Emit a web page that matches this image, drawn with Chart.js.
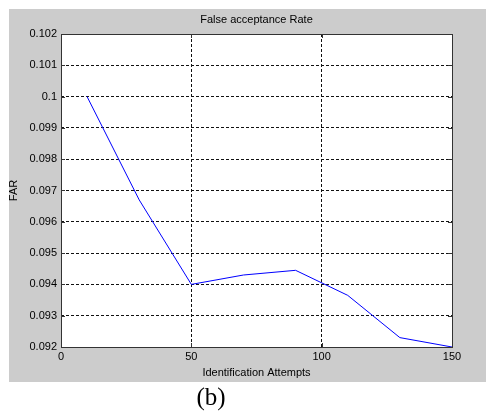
<!DOCTYPE html>
<html>
<head>
<meta charset="utf-8">
<script src="https://cdn.jsdelivr.net/npm/chart.js@4"></script>
<style>
  html, body { margin: 0; padding: 0; background: #fff; }
  canvas { display: block; }
</style>
</head>
<body>
<canvas id="farChart" width="486" height="412"></canvas>
<script>
// ── Data ───────────────────────────────────────
const attempts = [10, 30, 50, 70, 90, 110, 130, 150];
const farValues = [0.1, 0.0967, 0.094, 0.0943, 0.09445, 0.09365, 0.0923, 0.092];

const xTickValues = [0, 50, 100, 150];
const xTickLabels = ['0', '50', '100', '150'];
const yTickValues = [0.092, 0.093, 0.094, 0.095, 0.096, 0.097, 0.098, 0.099, 0.1, 0.101, 0.102];
const yTickLabels = ['0.092', '0.093', '0.094', '0.095', '0.096', '0.097', '0.098', '0.099', '0.1', '0.101', '0.102'];

const FONT = '"Liberation Sans", Arial, sans-serif';

// ── MATLAB-style figure: gray panel, white axes, box, inner ticks, title, caption
const figureDecor = {
  id: 'figureDecor',
  beforeDraw(chart) {
    const { ctx, chartArea: a } = chart;
    ctx.save();
    ctx.fillStyle = '#fff';
    ctx.fillRect(0, 0, chart.width, chart.height);
    ctx.fillStyle = '#cccccc';
    ctx.fillRect(9, 9, chart.width - 9, 373);
    ctx.fillStyle = '#fff';
    ctx.fillRect(a.left, a.top, a.right - a.left, a.bottom - a.top);
    ctx.restore();
  },
  afterDraw(chart) {
    const { ctx, chartArea: a, scales } = chart;
    ctx.save();
    // inner tick marks
    ctx.strokeStyle = '#333';
    ctx.lineWidth = 1;
    ctx.beginPath();
    yTickValues.forEach(v => {
      const y = Math.round(scales.y.getPixelForValue(v)) + 0.5;
      ctx.moveTo(a.left, y); ctx.lineTo(a.left + 4, y);
      ctx.moveTo(a.right, y); ctx.lineTo(a.right - 4, y);
    });
    xTickValues.forEach(v => {
      const x = Math.round(scales.x.getPixelForValue(v)) + 0.5;
      ctx.moveTo(x, a.bottom); ctx.lineTo(x, a.bottom - 4);
      ctx.moveTo(x, a.top); ctx.lineTo(x, a.top + 4);
    });
    ctx.stroke();
    // axes box
    ctx.strokeStyle = '#333';
    ctx.strokeRect(Math.round(a.left) + 0.5, Math.round(a.top) + 0.5,
                   Math.round(a.right - a.left), Math.round(a.bottom - a.top));
    // title
    ctx.fillStyle = '#000';
    ctx.font = '11px ' + FONT;
    ctx.textAlign = 'center';
    ctx.textBaseline = 'middle';
    ctx.fillText('False acceptance Rate', (a.left + a.right) / 2, 20);
    // caption
    ctx.font = '25px "Liberation Serif", "Times New Roman", serif';
    ctx.fillText('(b)', 211, 398);
    ctx.restore();
  },
};

new Chart(document.getElementById('farChart'), {
  type: 'line',
  data: {
    datasets: [{
      data: attempts.map((x, i) => ({ x, y: farValues[i] })),
      borderColor: '#0000ff',
      borderWidth: 1,
      pointRadius: 0,
      tension: 0,
      fill: false,
    }],
  },
  options: {
    responsive: false,
    animation: false,
    layout: { padding: { left: 0, top: 34, right: 34, bottom: 25 } },
    plugins: {
      legend: { display: false },
      tooltip: { enabled: false },
    },
    scales: {
      x: {
        type: 'linear',
        min: 0,
        max: 150,
        afterBuildTicks: s => { s.ticks = xTickValues.map(value => ({ value })); },
        afterFit: s => { s.height = 40; },
        grid: { color: '#111', lineWidth: 1, drawTicks: false },
        border: { display: false, dash: [3, 2] },
        ticks: {
          padding: 3,
          color: '#000',
          font: { family: FONT, size: 11 },
          maxRotation: 0,
          callback: (v, i) => xTickLabels[i],
        },
        title: {
          display: true,
          text: 'Identification Attempts',
          color: '#000',
          font: { family: FONT, size: 11 },
          padding: { top: 0, bottom: 7 },
        },
      },
      y: {
        type: 'linear',
        min: 0.092,
        max: 0.102,
        afterBuildTicks: s => { s.ticks = yTickValues.map(value => ({ value })); },
        afterFit: s => { s.width = 61; },
        grid: { color: '#111', lineWidth: 1, drawTicks: false },
        border: { display: false, dash: [3, 2] },
        ticks: {
          padding: 4,
          color: '#000',
          font: { family: FONT, size: 11 },
          callback: (v, i) => yTickLabels[i],
        },
        title: {
          display: true,
          text: 'FAR',
          color: '#000',
          font: { family: FONT, size: 11 },
          padding: { top: 7, bottom: 0 },
        },
      },
    },
  },
  plugins: [figureDecor],
});
</script>
</body>
</html>
